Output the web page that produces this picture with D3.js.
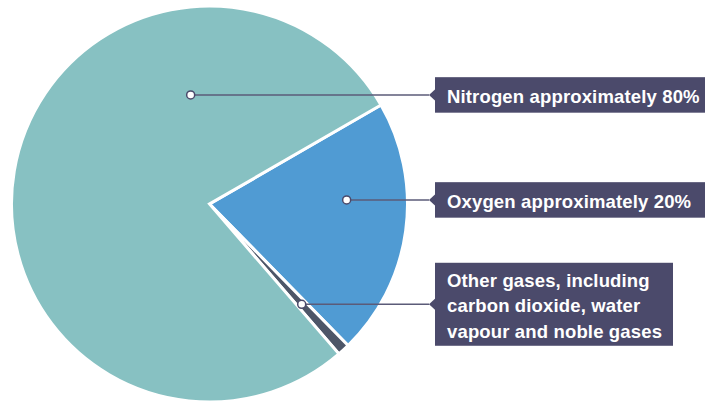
<!DOCTYPE html>
<html>
<head>
<meta charset="utf-8">
<script src="https://cdn.jsdelivr.net/npm/d3@7"></script>
<style>
  body { margin: 0; background: #fff; }
  svg { display: block; }
  .label text { font-family: "Liberation Sans", Arial, sans-serif; font-weight: bold; fill: #fff; letter-spacing: 0.15px; }
</style>
</head>
<body>
<div id="grafico"></div>
<script>
// slices, in drawing order (clockwise from the upper right)
const gases = ["Oxygen", "Other gases", "Nitrogen"];
const shares = [21, 1, 78];
const colors = ["#509bd3", "#4d5668", "#87c1c2"];
const labelLines = [
  ["Oxygen approximately 20%"],
  ["Other gases, including", "carbon dioxide, water", "vapour and noble gases"],
  ["Nitrogen approximately 80%"]
];

const width = 708, height = 403;
const cx = 209.5, cy = 204, radius = 198;

// where each pointer dot sits inside its slice: angle (deg) and fraction of radius
const anchors = [
  { angle: 88.3, r: 0.693 },
  { angle: null, r: 0.688 }, // null -> middle of the slice
  { angle: 350.2, r: 0.559 }
];
const boxX = 435, boxWidths = [270, 238, 270];
const lineHeight = 25.5, pad = 12;

const svg = d3.select("#grafico")
  .append("svg")
  .attr("width", width)
  .attr("height", height);

const pie = d3.pie()
  .sort(null)
  .value(d => d)
  .startAngle(60 * Math.PI / 180)
  .endAngle(420 * Math.PI / 180);

const arcs = pie(shares);

const arc = d3.arc().innerRadius(0).outerRadius(radius);

const g = svg.append("g").attr("transform", `translate(${cx},${cy})`);

g.selectAll("path")
  .data(arcs)
  .enter()
  .append("path")
  .attr("d", arc)
  .attr("fill", (d, i) => colors[i])
  .attr("stroke", "#fff")
  .attr("stroke-width", 3)
  .attr("stroke-linejoin", "miter");

// labels
arcs.forEach((d, i) => {
  const a = anchors[i].angle === null ? (d.startAngle + d.endAngle) / 2 : anchors[i].angle * Math.PI / 180;
  const rr = anchors[i].r * radius;
  const px = cx + rr * Math.sin(a);
  const py = cy - rr * Math.cos(a);

  const lines = labelLines[i];
  const boxH = lines.length === 1 ? 35.5 : 83;
  const tip = boxX - 6;

  const lab = svg.append("g").attr("class", "label");

  lab.append("line")
    .attr("x1", px).attr("y1", py)
    .attr("x2", tip).attr("y2", py)
    .attr("stroke", "#5b5b78")
    .attr("stroke-width", 1.5);

  lab.append("rect")
    .attr("x", boxX)
    .attr("y", py - boxH / 2)
    .attr("width", boxWidths[i])
    .attr("height", boxH)
    .attr("fill", "#4b4a6b");

  lab.append("path")
    .attr("d", `M${tip},${py}L${boxX + 0.5},${py - 6}L${boxX + 0.5},${py + 6}Z`)
    .attr("fill", "#4b4a6b");

  const t = lab.append("text")
    .attr("x", boxX + pad)
    .style("font-size", "18.5px");
  lines.forEach((s, j) => {
    t.append("tspan")
      .attr("x", boxX + pad)
      .attr("y", py + 7.8 + (j - (lines.length - 1) / 2) * lineHeight)
      .text(s);
  });

  lab.append("circle")
    .attr("cx", px).attr("cy", py)
    .attr("r", 4)
    .attr("fill", "#fff")
    .attr("stroke", "#4b4a6b")
    .attr("stroke-width", 1.5);
});
</script>
</body>
</html>
